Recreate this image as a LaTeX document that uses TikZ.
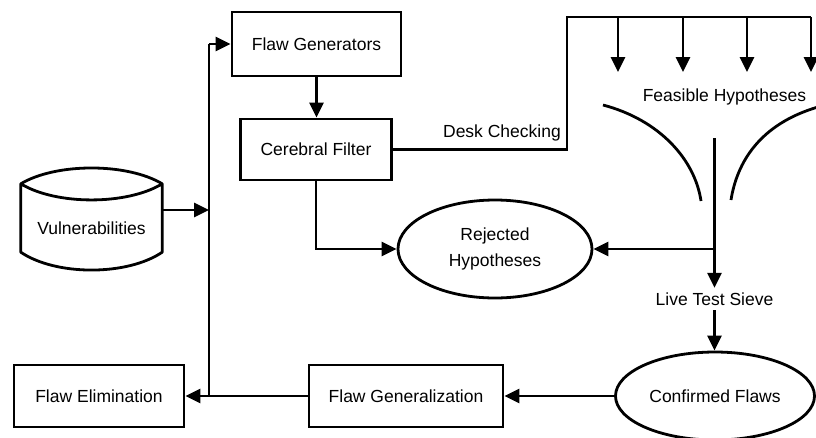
\documentclass[tikz,border=0pt]{standalone}
\usepackage{fontspec}
\setmainfont{Liberation Sans}
\usetikzlibrary{arrows.meta,shapes.geometric}
\begin{document}
\begin{tikzpicture}[x=1pt,y=-1pt,
  every node/.style={font=\fontsize{17.5}{26}\selectfont},
  box/.style={draw,line width=2.8pt,rectangle,inner sep=0pt},
  ell/.style={draw,line width=2.8pt,ellipse,inner sep=0pt},
  lbl/.style={inner sep=0pt},
  ln/.style={line width=2.8pt},
  arr/.style={line width=2.8pt,-{Triangle[length=15pt,width=14pt]}}]
\useasboundingbox (0,0) rectangle (816,437);
% nodes
\node[box,minimum width=169,minimum height=64] (fg) at (316.5,44) {Flaw Generators};
\node[box,minimum width=151,minimum height=61] (cf) at (316,149.5) {Cerebral Filter};
\node[minimum width=141,minimum height=68,inner sep=0pt] (vul) at (91.5,218) {};
\node[lbl] (vultext) at (91.5,228) {Vulnerabilities};
\node[ell,minimum width=194,minimum height=98,align=center] (rh) at (495,249) {Rejected\\Hypotheses};
\node[ell,minimum width=199,minimum height=88] (cfl) at (715,396) {Confirmed Flaws};
\node[box,minimum width=194,minimum height=62] (fgen) at (406,396) {Flaw Generalization};
\node[box,minimum width=170,minimum height=62] (fel) at (99,396) {Flaw Elimination};
\node[lbl,minimum height=22] (lts) at (714.5,299) {Live Test Sieve};
\node[lbl,anchor=east] (dc) at (561,133) {Desk Checking};
\node[lbl] (fh) at (724.5,97) {Feasible Hypotheses};
% vulnerabilities outline
\draw[ln,line join=round] (vul.north west) .. controls (56,162.7) and (127,162.7) .. (vul.north east)
  .. controls (127,205.3) and (56,205.3) .. (vul.north west) -- (vul.south west)
  .. controls (56,276) and (127,276) .. (vul.south east) -- (vul.north east);
% coordinates
\coordinate (sptop) at (209,44);
\coordinate (spbot) at (209,396);
\coordinate (vin) at (209,210);
\coordinate (dc1) at (567,149.5);
\coordinate (dc2) at (567,17);
\coordinate (t1) at (618,17);
\coordinate (t2) at (683,17);
\coordinate (t3) at (747,17);
\coordinate (t4) at (811,17);
\coordinate (b1) at (618,72);
\coordinate (b2) at (683,72);
\coordinate (b3) at (747,72);
\coordinate (b4) at (811,72);
\coordinate (stem) at (714.5,138);
\coordinate (junc) at (714.5,249);
% connectors
\draw[arr] (fg.south) -- (fg.south |- cf.north);
\draw[ln] (spbot) -- (sptop);
\draw[arr] (sptop) -- (fg.west);
\draw[arr] (vul.east |- vin) -- (vin);
\draw[arr] (cf.south) |- (rh.west);
\draw[ln,line join=miter] (cf.east) -- (dc1) -- (dc2) -- (t4);
\draw[arr] (t1) -- (b1);
\draw[arr] (t2) -- (b2);
\draw[arr] (t3) -- (b3);
\draw[arr] (t4) -- (b4);
\draw[ln] (603,105) .. controls (660,120) and (695,160) .. (701,201);
\draw[ln] (818,107) .. controls (760,124) and (737,162) .. (731,200);
\draw[ln] (stem) -- (junc);
\draw[arr] (junc) -- (rh.east);
\draw[arr] (junc) -- (lts.north);
\draw[arr] (lts.south) -- (lts.south |- cfl.north);
\draw[arr] (cfl.west) -- (fgen.east);
\draw[arr] (fgen.west) -- (fel.east);
\end{tikzpicture}
\end{document}
